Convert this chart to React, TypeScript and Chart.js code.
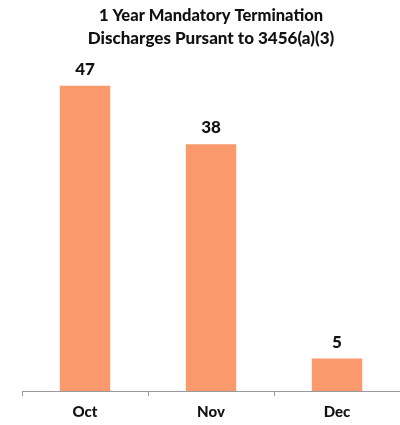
import React, { useEffect, useRef } from "react";
import { Chart, registerables } from "chart.js";

Chart.register(...registerables);

const categories = ["Oct", "Nov", "Dec"];
const discharges = [47, 38, 5];
const titleLines = ["1 Year Mandatory Termination", "Discharges Pursant to 3456(a)(3)"];

const FONT = "Lato, 'Open Sans', sans-serif";

const valueLabels = {
  id: "valueLabels",
  afterDatasetsDraw(chart: any) {
    const ctx = chart.ctx;
    const meta = chart.getDatasetMeta(0);
    ctx.save();
    ctx.font = `900 17px ${FONT}`;
    ctx.fillStyle = "#111";
    ctx.textAlign = "center";
    ctx.textBaseline = "alphabetic";
    meta.data.forEach((bar: any, i: number) => {
      ctx.fillText(String(chart.data.datasets[0].data[i]), bar.x, bar.y - 11);
    });
    ctx.restore();
  },
};

export default function App() {
  const ref = useRef<HTMLCanvasElement>(null);
  useEffect(() => {
    if (!ref.current) return;
    const chart = new Chart(ref.current, {
      type: "bar",
      data: {
        labels: categories,
        datasets: [
          {
            data: discharges,
            backgroundColor: "#FA9A6C",
            borderWidth: 0,
            barPercentage: 0.4,
            categoryPercentage: 1,
          },
        ],
      },
      plugins: [valueLabels],
      options: {
        animation: false,
        responsive: false,
        maintainAspectRatio: false,
        layout: { padding: { left: 22, right: 0, top: 0, bottom: 0 } },
        plugins: {
          legend: { display: false },
          tooltip: { enabled: false },
          title: {
            display: true,
            text: titleLines[0],
            color: "#111",
            font: { family: FONT, size: 16.5, weight: "900" },
            padding: { top: 6, bottom: 3 },
          },
          subtitle: {
            display: true,
            text: titleLines[1],
            color: "#111",
            font: { family: FONT, size: 17, weight: "900" },
            padding: { top: 0, bottom: 17 },
          },
        },
        scales: {
          y: { display: false, min: 0, max: 50 },
          x: {
            afterFit(scale: any) {
              scale.height = 34;
            },
            grid: {
              display: true,
              drawOnChartArea: false,
              drawTicks: true,
              tickLength: 5,
              color: "#9a9a9a",
              offset: true,
            },
            border: { display: true, color: "#9a9a9a", width: 1 },
            ticks: {
              color: "#111",
              font: { family: FONT, size: 15, weight: "900" },
              padding: 7,
            },
          },
        },
      },
    });
    return () => chart.destroy();
  }, []);
  return (
    <canvas
      ref={ref}
      width={400}
      height={425}
      style={{ position: "absolute", left: 0, top: 0, width: 400, height: 425 }}
    />
  );
}
